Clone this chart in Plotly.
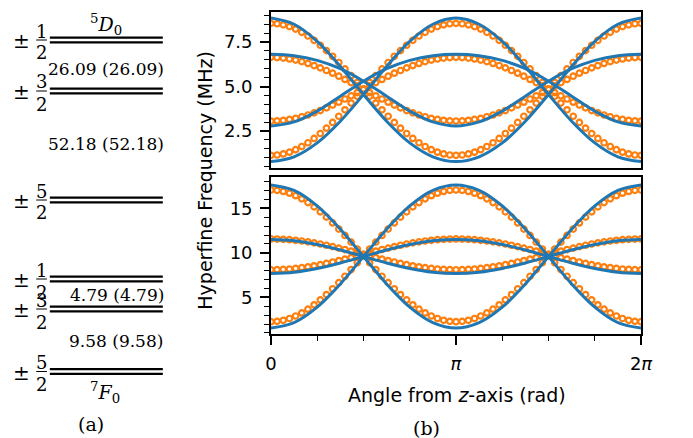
import numpy as np
import plotly.graph_objects as go

W, H = 693, 438

# ---------------------------------------------------------------- data
# simulated points every 6 degrees, model curves every 22.5 degrees
sim_deg = list(range(0, 361, 6))
model_deg = [i * 22.5 for i in range(17)]

# upper panel: +-1/2 <-> +-3/2 transitions (MHz)
sim_top_1 = [8.55, 8.53, 8.47, 8.37, 8.23, 8.05, 7.84, 7.60, 7.32, 7.02, 6.70, 6.35, 5.99, 5.61, 5.23, 4.84,
             4.45, 4.07, 3.69, 3.33, 2.98, 2.66, 2.36, 2.08, 1.84, 1.63, 1.45, 1.31, 1.21, 1.15, 1.13,
             1.15, 1.21, 1.31, 1.45, 1.63, 1.84, 2.08, 2.36, 2.66, 2.98, 3.33, 3.69, 4.07, 4.45, 4.84,
             5.23, 5.61, 5.99, 6.35, 6.70, 7.02, 7.32, 7.60, 7.84, 8.05, 8.23, 8.37, 8.47, 8.53, 8.55]
sim_top_2 = [6.64, 6.63, 6.60, 6.55, 6.49, 6.40, 6.30, 6.18, 6.05, 5.90, 5.75, 5.58, 5.40, 5.22, 5.04, 4.85,
             4.66, 4.48, 4.30, 4.12, 3.96, 3.80, 3.65, 3.52, 3.40, 3.30, 3.21, 3.15, 3.10, 3.07, 3.06,
             3.07, 3.10, 3.15, 3.21, 3.30, 3.40, 3.52, 3.65, 3.80, 3.96, 4.12, 4.30, 4.48, 4.66, 4.85,
             5.04, 5.22, 5.40, 5.58, 5.75, 5.90, 6.05, 6.18, 6.30, 6.40, 6.49, 6.55, 6.60, 6.63, 6.64]
sim_top_3 = [3.06, 3.07, 3.10, 3.15, 3.21, 3.30, 3.40, 3.52, 3.65, 3.80, 3.96, 4.12, 4.30, 4.48, 4.66, 4.85,
             5.04, 5.22, 5.40, 5.58, 5.75, 5.90, 6.05, 6.18, 6.30, 6.40, 6.49, 6.55, 6.60, 6.63, 6.64,
             6.63, 6.60, 6.55, 6.49, 6.40, 6.30, 6.18, 6.05, 5.90, 5.75, 5.58, 5.40, 5.22, 5.04, 4.85,
             4.66, 4.48, 4.30, 4.12, 3.96, 3.80, 3.65, 3.52, 3.40, 3.30, 3.21, 3.15, 3.10, 3.07, 3.06]
sim_top_4 = [1.13, 1.15, 1.21, 1.31, 1.45, 1.63, 1.84, 2.08, 2.36, 2.66, 2.98, 3.33, 3.69, 4.07, 4.45, 4.84,
             5.23, 5.61, 5.99, 6.35, 6.70, 7.02, 7.32, 7.60, 7.84, 8.05, 8.23, 8.37, 8.47, 8.53, 8.55,
             8.53, 8.47, 8.37, 8.23, 8.05, 7.84, 7.60, 7.32, 7.02, 6.70, 6.35, 5.99, 5.61, 5.23, 4.84,
             4.45, 4.07, 3.69, 3.33, 2.98, 2.66, 2.36, 2.08, 1.84, 1.63, 1.45, 1.31, 1.21, 1.15, 1.13]

model_top_1 = [8.85, 8.50, 7.54, 6.13, 4.55, 3.05, 1.83, 1.05, 0.78, 1.05, 1.83, 3.05, 4.55, 6.13, 7.54, 8.50, 8.85]
model_top_2 = [6.81, 6.73, 6.47, 6.00, 5.30, 4.46, 3.62, 3.01, 2.78, 3.01, 3.62, 4.46, 5.30, 6.00, 6.47, 6.73, 6.81]
model_top_3 = [2.78, 3.01, 3.62, 4.46, 5.30, 6.00, 6.47, 6.73, 6.81, 6.73, 6.47, 6.00, 5.30, 4.46, 3.62, 3.01, 2.78]
model_top_4 = [0.78, 1.05, 1.83, 3.05, 4.55, 6.13, 7.54, 8.50, 8.85, 8.50, 7.54, 6.13, 4.55, 3.05, 1.83, 1.05, 0.78]

# lower panel: +-3/2 <-> +-5/2 transitions (MHz)
sim_bot_1 = [17.06, 17.02, 16.90, 16.70, 16.42, 16.07, 15.65, 15.16, 14.61, 14.01, 13.36, 12.67, 11.95, 11.20, 10.43, 9.66,
             8.89, 8.12, 7.37, 6.65, 5.96, 5.31, 4.71, 4.16, 3.67, 3.25, 2.90, 2.62, 2.42, 2.30, 2.26,
             2.30, 2.42, 2.62, 2.90, 3.25, 3.67, 4.16, 4.71, 5.31, 5.96, 6.65, 7.37, 8.12, 8.89, 9.66,
             10.43, 11.20, 11.95, 12.67, 13.36, 14.01, 14.61, 15.16, 15.65, 16.07, 16.42, 16.70, 16.90, 17.02, 17.06]
sim_bot_2 = [11.56, 11.55, 11.52, 11.48, 11.41, 11.33, 11.23, 11.12, 10.99, 10.85, 10.70, 10.53, 10.37, 10.19, 10.01, 9.83,
             9.65, 9.47, 9.30, 9.13, 8.97, 8.81, 8.67, 8.54, 8.43, 8.33, 8.25, 8.18, 8.14, 8.11, 8.10,
             8.11, 8.14, 8.18, 8.25, 8.33, 8.43, 8.54, 8.67, 8.81, 8.97, 9.13, 9.30, 9.47, 9.65, 9.83,
             10.01, 10.19, 10.37, 10.53, 10.70, 10.85, 10.99, 11.12, 11.23, 11.33, 11.41, 11.48, 11.52, 11.55, 11.56]
sim_bot_3 = [8.10, 8.11, 8.14, 8.18, 8.25, 8.33, 8.43, 8.54, 8.67, 8.81, 8.97, 9.13, 9.30, 9.47, 9.65, 9.83,
             10.01, 10.19, 10.37, 10.53, 10.70, 10.85, 10.99, 11.12, 11.23, 11.33, 11.41, 11.48, 11.52, 11.55, 11.56,
             11.55, 11.52, 11.48, 11.41, 11.33, 11.23, 11.12, 10.99, 10.85, 10.70, 10.53, 10.37, 10.19, 10.01, 9.83,
             9.65, 9.47, 9.30, 9.13, 8.97, 8.81, 8.67, 8.54, 8.43, 8.33, 8.25, 8.18, 8.14, 8.11, 8.10]
sim_bot_4 = [2.26, 2.30, 2.42, 2.62, 2.90, 3.25, 3.67, 4.16, 4.71, 5.31, 5.96, 6.65, 7.37, 8.12, 8.89, 9.66,
             10.43, 11.20, 11.95, 12.67, 13.36, 14.01, 14.61, 15.16, 15.65, 16.07, 16.42, 16.70, 16.90, 17.02, 17.06,
             17.02, 16.90, 16.70, 16.42, 16.07, 15.65, 15.16, 14.61, 14.01, 13.36, 12.67, 11.95, 11.20, 10.43, 9.66,
             8.89, 8.12, 7.37, 6.65, 5.96, 5.31, 4.71, 4.16, 3.67, 3.25, 2.90, 2.62, 2.42, 2.30, 2.26]

model_bot_1 = [17.62, 17.01, 15.27, 12.66, 9.58, 6.51, 3.90, 2.16, 1.55, 2.16, 3.90, 6.51, 9.58, 12.66, 15.27, 17.01, 17.62]
model_bot_2 = [11.49, 11.35, 10.93, 10.32, 9.59, 8.86, 8.25, 7.83, 7.69, 7.83, 8.25, 8.86, 9.59, 10.32, 10.93, 11.35, 11.49]
model_bot_3 = [7.69, 7.83, 8.25, 8.86, 9.59, 10.32, 10.93, 11.35, 11.49, 11.35, 10.93, 10.32, 9.59, 8.86, 8.25, 7.83, 7.69]
model_bot_4 = [1.55, 2.16, 3.90, 6.51, 9.58, 12.66, 15.27, 17.01, 17.62, 17.01, 15.27, 12.66, 9.58, 6.51, 3.90, 2.16, 1.55]

x_tick_vals = [0, np.pi, 2 * np.pi]
x_tick_text = ["0", "<i>π</i>", "2<i>π</i>"]
top_tick_vals = [2.5, 5.0, 7.5]
top_tick_text = ["2.5", "5.0", "7.5"]
bot_tick_vals = [5, 10, 15]
bot_tick_text = ["5", "10", "15"]

# energy-level diagram: state labels, splittings and the +-m/2 sublevels
upper_state = "<sup>5</sup><i>D</i><sub>0</sub>"
lower_state = "<sup>7</sup><i>F</i><sub>0</sub>"
upper_splits = ["26.09 (26.09)", "52.18 (52.18)"]
lower_splits = ["4.79 (4.79)", "9.58 (9.58)"]
level_numerators = ["1", "3", "5", "1", "3", "5"]

# ---------------------------------------------------------------- styling
BLUE = "#1f77b4"
ORANGE = "#ff7f0e"
SANS = "DejaVu Sans"
SERIF = "DejaVu Serif"

sim_theta = np.deg2rad(sim_deg)
model_theta = np.deg2rad(model_deg)

fig = go.Figure()


def add_panel(sims, models, xaxis, yaxis):
    for ys in sims:
        fig.add_trace(go.Scatter(
            x=sim_theta, y=ys, mode="markers", xaxis=xaxis, yaxis=yaxis,
            marker=dict(symbol="circle-open", size=5.5, color=ORANGE, line=dict(width=2.2, color=ORANGE)),
            hoverinfo="skip"))
    for ys in models:
        fig.add_trace(go.Scatter(
            x=model_theta, y=ys, mode="lines", xaxis=xaxis, yaxis=yaxis,
            line=dict(color=BLUE, width=3, shape="spline", smoothing=1.0),
            hoverinfo="skip"))


add_panel([sim_top_1, sim_top_2, sim_top_3, sim_top_4],
          [model_top_1, model_top_2, model_top_3, model_top_4], "x", "y")
add_panel([sim_bot_1, sim_bot_2, sim_bot_3, sim_bot_4],
          [model_bot_1, model_bot_2, model_bot_3, model_bot_4], "x2", "y2")

X0, X1 = 272 / W, 652 / W
TOP_DOM = [1 - 168 / H, 1 - 12 / H]
BOT_DOM = [1 - 334 / H, 1 - 177 / H]

frame = dict(showline=True, linecolor="black", linewidth=1.6, mirror=True,
             showgrid=False, zeroline=False)
tickfont = dict(family=SANS, size=18, color="black")


def minor(step):
    return dict(tickmode="linear", tick0=0, dtick=step, ticks="outside",
                ticklen=5, tickwidth=1.3, tickcolor="black", showgrid=False)


fig.update_layout(
    width=W, height=H, margin=dict(l=0, r=0, t=0, b=0),
    paper_bgcolor="white", plot_bgcolor="white", showlegend=False,
    xaxis=dict(domain=[X0, X1], range=[0, 2 * np.pi], anchor="y", ticks="",
               showticklabels=False, **frame),
    xaxis2=dict(domain=[X0, X1], range=[0, 2 * np.pi], anchor="y2",
                tickvals=x_tick_vals, ticktext=x_tick_text, ticks="outside",
                ticklen=9, tickwidth=1.6, tickcolor="black", tickfont=tickfont,
                ticklabelstandoff=4, minor=minor(np.pi / 4), **frame),
    yaxis=dict(domain=TOP_DOM, range=[0.42, 9.19], anchor="x",
               tickvals=top_tick_vals, ticktext=top_tick_text, ticks="outside",
               ticklen=9, tickwidth=1.6, tickcolor="black", tickfont=tickfont,
               ticklabelstandoff=4, minor=minor(0.5), **frame),
    yaxis2=dict(domain=BOT_DOM, range=[0.88, 18.52], anchor="x2",
                tickvals=bot_tick_vals, ticktext=bot_tick_text, ticks="outside",
                ticklen=9, tickwidth=1.6, tickcolor="black", tickfont=tickfont,
                ticklabelstandoff=4, minor=minor(1), **frame),
)


def px(x):
    return x / W


def py(y):
    return 1 - y / H


def text(x, y, s, family=SERIF, size=17, angle=0):
    fig.add_annotation(x=px(x), y=py(y), xref="paper", yref="paper", text=s,
                       showarrow=False, xanchor="center", yanchor="middle",
                       textangle=angle, font=dict(family=family, size=size, color="black"))


def hline(x0, x1, y, width):
    fig.add_shape(type="line", xref="paper", yref="paper",
                  x0=px(x0), x1=px(x1), y0=py(y), y1=py(y),
                  line=dict(color="black", width=width))


# axis titles and panel tags
text(204, 180, "Hyperfine Frequency (MHz)", family=SANS, size=19, angle=-90)
text(463, 395, "Angle from <i>z</i>-axis (rad)", family=SANS, size=19)
text(432, 428, "(b)", size=19)
text(87, 424, "(a)", size=19)

# energy levels (a): each sublevel drawn as a doubled line with a +-m/2 label
level_y = [40, 91, 200, 279, 309, 371.5]
for y, num in zip(level_y, level_numerators):
    for dy in (-2.4, 2.4):
        hline(45, 161, y + dy, 2.2)
    text(16, y + 1, "±", size=20)
    text(36.5, y - 9, num, size=18)
    hline(31, 42, y, 1.0)
    text(36.5, y + 13, "2", size=18)

text(103, 24, upper_state, size=19)
text(103, 69, upper_splits[0])
text(103, 144, upper_splits[1])
text(114, 295, lower_splits[0])
text(113, 341, lower_splits[1])
text(102, 392, lower_state, size=19)

fig.write_html("out.html")
